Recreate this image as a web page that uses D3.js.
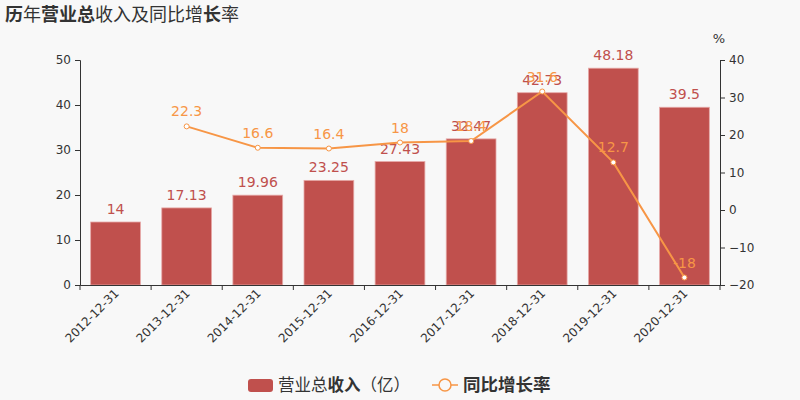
<!DOCTYPE html>
<html><head><meta charset="utf-8">
<script src="https://cdn.jsdelivr.net/npm/d3@7"></script>
<style>
body{margin:0;background:#f8f8f8;}
svg{display:block;font-family:"DejaVu Sans","Noto Sans CJK SC",sans-serif;}
</style></head><body>
<svg id="c" width="800" height="400"></svg>
<script>
const categories = ["2012-12-31","2013-12-31","2014-12-31","2015-12-31","2016-12-31","2017-12-31","2018-12-31","2019-12-31","2020-12-31"];
const revenue = [14, 17.13, 19.96, 23.25, 27.43, 32.47, 42.73, 48.18, 39.5];
const growth = [null, 22.3, 16.6, 16.4, 18, 18.4, 31.6, 12.7, -18];
const leftTicks = [0,10,20,30,40,50];
const rightTicks = [-20,-10,0,10,20,30,40];

const barColor = "#c0504d", lineColor = "#f79646", textColor = "#333";
const svg = d3.select("#c");
svg.append("rect").attr("width",800).attr("height",400).attr("fill","#f8f8f8");

const xb = d3.scaleBand().domain(categories).range([80,720]);
const yL = d3.scaleLinear().domain([0,50]).range([285,60]);
const yR = d3.scaleLinear().domain([-20,40]).range([285,60]);

// bars
svg.append("g").selectAll("rect").data(revenue).join("rect")
  .attr("x",(d,i)=>xb(categories[i]) + xb.bandwidth()*0.15)
  .attr("width",xb.bandwidth()*0.7)
  .attr("y",d=>yL(d)).attr("height",d=>yL(0)-yL(d))
  .attr("fill",barColor).attr("stroke","#e6a9a7").attr("stroke-width",0.8);

// axes
const axL = svg.append("g").attr("transform","translate(80,0)")
  .call(d3.axisLeft(yL).tickValues(leftTicks).tickSize(5).tickPadding(4));
const axR = svg.append("g").attr("transform","translate(720,0)")
  .call(d3.axisRight(yR).tickValues(rightTicks).tickSize(5).tickPadding(4));
const axB = svg.append("g").attr("transform","translate(0,285)")
  .call(d3.axisBottom(xb).tickSize(0).tickFormat(""));
[axL,axR,axB].forEach(a=>{
  a.selectAll("path,line").attr("stroke",textColor);
  a.selectAll("text").attr("fill",textColor).style("font-size","12px").style("font-family","DejaVu Sans");
});
// boundary ticks on x axis
svg.append("g").selectAll("line").data(d3.range(categories.length+1)).join("line")
  .attr("x1",i=>80+xb.step()*i).attr("x2",i=>80+xb.step()*i)
  .attr("y1",285).attr("y2",290).attr("stroke",textColor);
// x labels
svg.append("g").selectAll("text").data(categories).join("text")
  .attr("transform",d=>`translate(${xb(d)+xb.bandwidth()/2+4},${294}) rotate(-45)`)
  .attr("text-anchor","end").attr("fill",textColor)
  .style("font-size","12px").text(d=>d);

svg.append("text").attr("x",719).attr("y",43).attr("text-anchor","middle")
  .attr("fill",textColor).style("font-size","13px").text("%");

// bar labels
svg.append("g").selectAll("text").data(revenue).join("text")
  .attr("x",(d,i)=>xb(categories[i])+xb.bandwidth()/2)
  .attr("y",d=>yL(d)-8).attr("text-anchor","middle")
  .attr("fill",barColor).style("font-size","14px").text(d=>d);

// line
const pts = growth.map((g,i)=>({g,i})).filter(p=>p.g!==null);
const cx = p=>xb(categories[p.i])+xb.bandwidth()/2;
svg.append("path").datum(pts)
  .attr("d",d3.line().x(cx).y(p=>yR(p.g)))
  .attr("fill","none").attr("stroke",lineColor).attr("stroke-width",2);
svg.append("g").selectAll("circle").data(pts).join("circle")
  .attr("cx",cx).attr("cy",p=>yR(p.g)).attr("r",2.5)
  .attr("fill","#fff").attr("stroke",lineColor).attr("stroke-width",1);
svg.append("g").selectAll("text").data(pts).join("text")
  .attr("x",cx).attr("y",p=>yR(p.g)-10).attr("text-anchor","middle")
  .attr("fill",lineColor).style("font-size","14px").text(p=>p.g);

// title
const t = svg.append("text").attr("x",5).attr("y",21).attr("fill",textColor)
  .style("font-size","18px").style("font-family","Noto Sans CJK SC");
[["历",1],["年",0],["营业总",1],["收入及同比增",0],["长",1],["率",0]].forEach(([s,b])=>
  t.append("tspan").attr("font-weight",b?"bold":"normal").text(s));

// legend
svg.append("rect").attr("x",248).attr("y",379).attr("width",25).attr("height",13).attr("rx",3)
  .attr("fill",barColor);
const l1 = svg.append("text").attr("x",278).attr("y",391).attr("fill",textColor)
  .style("font-size","16.5px").style("font-family","Noto Sans CJK SC");
[["营业总",0],["收入",1],["（亿）",0]].forEach(([s,b])=>
  l1.append("tspan").attr("font-weight",b?"bold":"normal").text(s));
svg.append("line").attr("x1",432).attr("x2",458).attr("y1",385).attr("y2",385)
  .attr("stroke",lineColor).attr("stroke-width",1.5);
svg.append("circle").attr("cx",445).attr("cy",385).attr("r",6)
  .attr("fill","#f8f8f8").attr("stroke",lineColor).attr("stroke-width",1.5);
svg.append("text").attr("x",463).attr("y",391).attr("fill",textColor)
  .style("font-size","17.5px").style("font-family","Noto Sans CJK SC").attr("font-weight","bold")
  .text("同比增长率");
</script></body></html>
